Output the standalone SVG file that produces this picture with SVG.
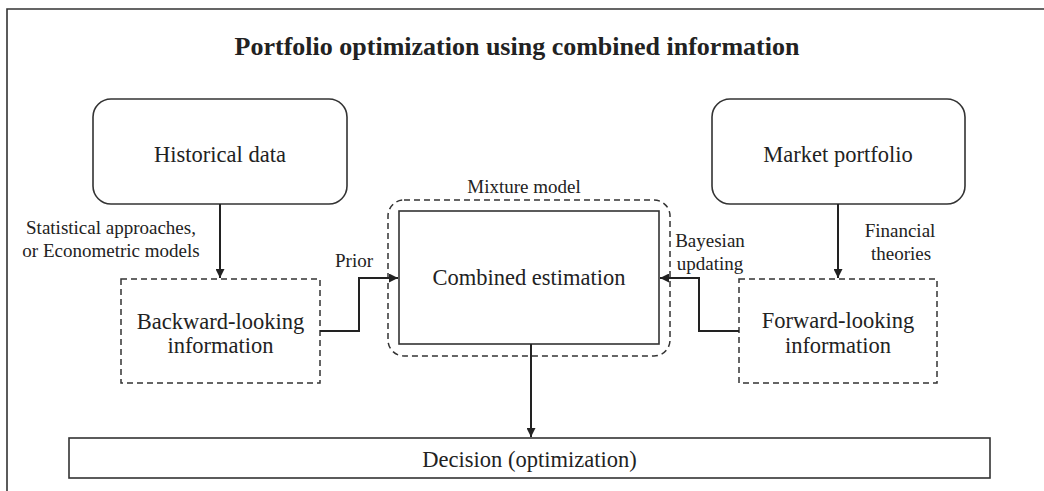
<svg xmlns="http://www.w3.org/2000/svg" width="1044" height="491" viewBox="0 0 1044 491">
<style>
text{font-family:"Liberation Serif","Times New Roman",serif;fill:#222;text-anchor:middle}
.t{font-size:26px;font-weight:bold}
.n{font-size:22.5px}
.s{font-size:19px}
.solid{fill:#fff;stroke:#333;stroke-width:1.6}
.dash{fill:none;stroke:#333;stroke-width:1.5;stroke-dasharray:6,4}
.c{fill:none;stroke:#222;stroke-width:2}
</style>
<defs>
<marker id="ah" viewBox="0 0 10 10" refX="10" refY="5" markerWidth="4.5" markerHeight="4.5" markerUnits="strokeWidth" orient="auto">
<path d="M0,0L10,5L0,10z" fill="#222"/>
</marker>
</defs>
<rect width="1044" height="491" fill="#fff"/>
<path d="M7,491V9H1044" fill="none" stroke="#333" stroke-width="1.6"/>
<text class="t" x="517" y="55">Portfolio optimization using combined information</text>

<g id="historical">
<rect class="solid" x="93" y="99" width="254" height="105" rx="18"/>
<text class="n" x="220" y="162">Historical data</text>
</g>
<g id="market">
<rect class="solid" x="712" y="99" width="253" height="105" rx="18"/>
<text class="n" x="838" y="162">Market portfolio</text>
</g>
<g id="mixture">
<rect class="dash" x="388" y="200" width="282" height="156" rx="16"/>
<text class="s" x="524" y="193">Mixture model</text>
</g>
<g id="combined">
<rect class="solid" x="399" y="211" width="260" height="133"/>
<text class="n" x="529" y="285">Combined estimation</text>
</g>
<g id="backward">
<rect class="dash" x="121" y="279" width="199" height="104"/>
<text class="n" x="220.5" y="329">Backward-looking</text>
<text class="n" x="220.5" y="353">information</text>
</g>
<g id="forward">
<rect class="dash" x="739" y="279" width="198" height="104"/>
<text class="n" x="838" y="328">Forward-looking</text>
<text class="n" x="838" y="353">information</text>
</g>
<g id="decision">
<rect class="solid" x="69" y="438" width="921" height="40"/>
<text class="n" x="529.5" y="467">Decision (optimization)</text>
</g>

<g id="connectors">
<path class="c" d="M220,204V278" marker-end="url(#ah)"/>
<path class="c" d="M838,204V278" marker-end="url(#ah)"/>
<path class="c" d="M320,331H359V278H398" marker-end="url(#ah)"/>
<path class="c" d="M739,331H699V278H660" marker-end="url(#ah)"/>
<path class="c" d="M531,344V437" marker-end="url(#ah)"/>
<text class="s" x="111" y="234">Statistical approaches,</text>
<text class="s" x="111" y="257">or Econometric models</text>
<text class="s" x="354" y="267">Prior</text>
<text class="s" x="710" y="247">Bayesian</text>
<text class="s" x="710" y="270">updating</text>
<text class="s" x="900" y="237">Financial</text>
<text class="s" x="901" y="260">theories</text>
</g>
</svg>
